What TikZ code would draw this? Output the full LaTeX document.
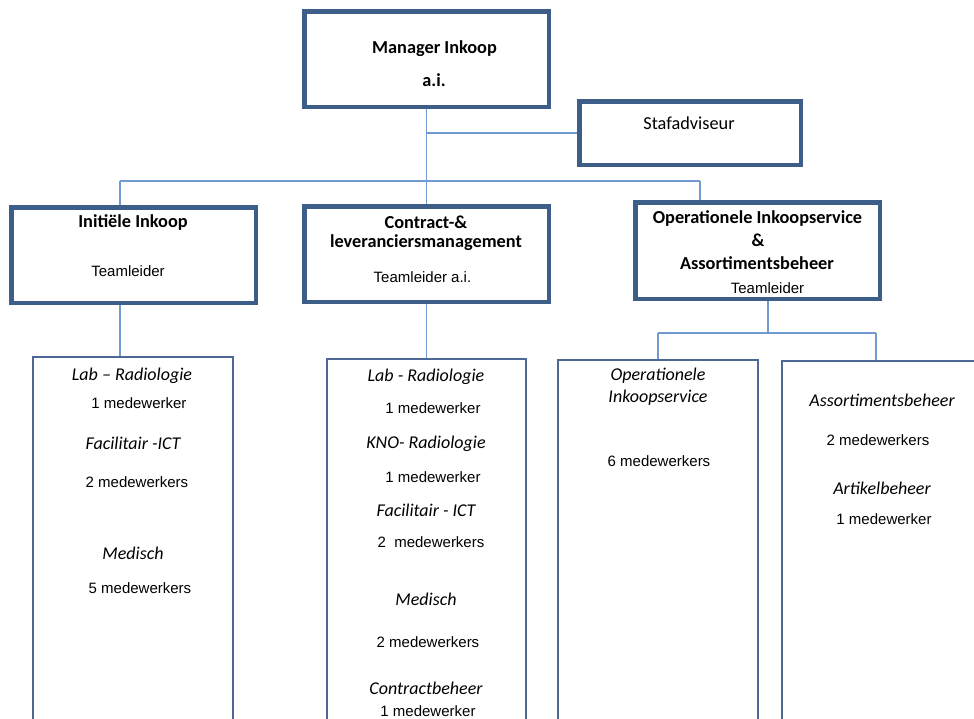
\documentclass[tikz,border=0pt]{standalone}
\usepackage{fontspec}
\newfontfamily\carlitofont{Carlito}
\newfontfamily\liberfont{Liberation Sans}
\definecolor{boxdark}{RGB}{62,94,138}
\definecolor{boxmid}{RGB}{78,104,150}
\definecolor{linkblue}{RGB}{112,154,208}
\tikzset{
  topbox/.style={draw=boxdark, line width=3pt, fill=white, rectangle, inner sep=0pt},
  unitbox/.style={draw=boxmid, line width=1.4pt, fill=white, rectangle, inner sep=0pt},
  link/.style={draw=linkblue, line width=1.5pt},
  head/.style={font=\carlitofont\bfseries\fontsize{18.3}{22}\selectfont, inner sep=0pt, text=black},
  headreg/.style={font=\carlitofont\fontsize{18.3}{22}\selectfont, inner sep=0pt, text=black},
  sub/.style={font=\carlitofont\itshape\fontsize{18}{22}\selectfont, inner sep=0pt, text=black},
  body/.style={font=\liberfont\fontsize{15}{18}\selectfont, inner sep=0pt, text=black},
}
\begin{document}
\begin{tikzpicture}[x=1pt,y=-1pt]
\useasboundingbox (0,0) rectangle (974,718);
\clip (0,0) rectangle (974,718);
\fill[white] (0,0) rectangle (974,718);

% boxes (positions)
\node[topbox, minimum width=243, minimum height=94] (mgr) at (426.5,59) {};
\node[topbox, minimum width=220, minimum height=62] (staf) at (690,133) {};
\node[topbox, minimum width=243, minimum height=94] (ini) at (133.5,255) {};
\node[topbox, minimum width=243, minimum height=94] (con) at (426.5,254) {};
\node[topbox, minimum width=243, minimum height=95] (ops) at (757.5,250.5) {};
\node[unitbox, minimum width=200, minimum height=383] (b1) at (133,548.5) {};
\node[unitbox, minimum width=199, minimum height=381] (b2) at (426.5,549.5) {};
\node[unitbox, minimum width=200, minimum height=380] (b3) at (658,550) {};
\node[unitbox, minimum width=218, minimum height=379] (b4) at (891,550.5) {};

% connector coordinates
\coordinate (busL) at (120,181);
\coordinate (busR) at (700,181);
\coordinate (opsj) at (768,333);
\coordinate (opsL) at (658,333);
\coordinate (opsR) at (876,333);

% connectors
\draw[link] (mgr.south) -- (con.north);
\draw[link] (staf.west) -- (staf.west -| mgr.south);
\draw[link] (busL) -- (busR);
\draw[link] (busL) -- (busL |- ini.north);
\draw[link] (busR) -- (busR |- ops.north);
\draw[link] (ini.south -| busL) -- (b1.north -| busL);
\draw[link] (con.south) -- (b2.north);
\draw[link] (ops.south -| opsj) -- (opsj);
\draw[link] (opsL) -- (opsR);
\draw[link] (opsL) -- (opsL |- b3.north);
\draw[link] (opsR) -- (opsR |- b4.north);

% redraw boxes on top of connector ends
\draw[draw=boxdark, line width=3pt] (mgr.south west) rectangle (mgr.north east);
\draw[draw=boxdark, line width=3pt] (staf.south west) rectangle (staf.north east);
\draw[draw=boxdark, line width=3pt] (ini.south west) rectangle (ini.north east);
\draw[draw=boxdark, line width=3pt] (con.south west) rectangle (con.north east);
\draw[draw=boxdark, line width=3pt] (ops.south west) rectangle (ops.north east);
\draw[draw=boxmid, line width=1.4pt] (b1.south west) rectangle (b1.north east);
\draw[draw=boxmid, line width=1.4pt] (b2.south west) rectangle (b2.north east);
\draw[draw=boxmid, line width=1.4pt] (b3.south west) rectangle (b3.north east);
\draw[draw=boxmid, line width=1.4pt] (b4.south west) rectangle (b4.north east);

% texts top
\node[head] (t-mgr1) at (434.5,49) {Manager Inkoop};
\node[head] (t-mgr2) at (434,80) {a.i.};
\node[headreg] (t-staf) at (689,123) {Stafadviseur};

\node[head] (t-ini1) at (133,222) {Initiële Inkoop};
\node[body] (t-ini2) at (128,271) {Teamleider};

\node[head] (t-con1) at (426,222) {Contract-\&};
\node[head] (t-con2) at (426,243) {leveranciersmanagement};
\node[body] (t-con3) at (422.5,277) {Teamleider a.i.};

\node[head] (t-ops1) at (757.5,218) {Operationele Inkoopservice};
\node[head] (t-ops2) at (758,240) {\&};
\node[head] (t-ops3) at (757,263) {Assortimentsbeheer};
\node[body] (t-ops4) at (767.5,288) {Teamleider};

% texts b1
\node[sub] (a1) at (132,376) {Lab – Radiologie};
\node[body] (a2) at (139,403) {1 medewerker};
\node[sub] (a3) at (133,443) {Facilitair -ICT};
\node[body] (a4) at (137,482) {2 medewerkers};
\node[sub] (a5) at (133,553) {Medisch};
\node[body] (a6) at (140,588) {5 medewerkers};

% texts b2
\node[sub] (c1) at (426,377) {Lab - Radiologie};
\node[body] (c2) at (433,408) {1 medewerker};
\node[sub] (c3) at (426,444) {KNO- Radiologie};
\node[body] (c4) at (433,477) {1 medewerker};
\node[sub] (c5) at (426,510) {Facilitair - ICT};
\node[body] (c6) at (431,542) {2\ \ medewerkers};
\node[sub] (c7) at (426,599) {Medisch};
\node[body] (c8) at (428,642) {2 medewerkers};
\node[sub] (c9) at (426,688) {Contractbeheer};
\node[body] (c10) at (428,711) {1 medewerker};

% texts b3
\node[sub] (d1) at (658,376) {Operationele};
\node[sub] (d2) at (658,398) {Inkoopservice};
\node[body] (d3) at (659,461) {6 medewerkers};

% texts b4
\node[sub] (e1) at (882,400) {Assortimentsbeheer};
\node[body] (e2) at (878,440) {2 medewerkers};
\node[sub] (e3) at (882,488) {Artikelbeheer};
\node[body] (e4) at (884,519) {1 medewerker};
\end{tikzpicture}
\end{document}
